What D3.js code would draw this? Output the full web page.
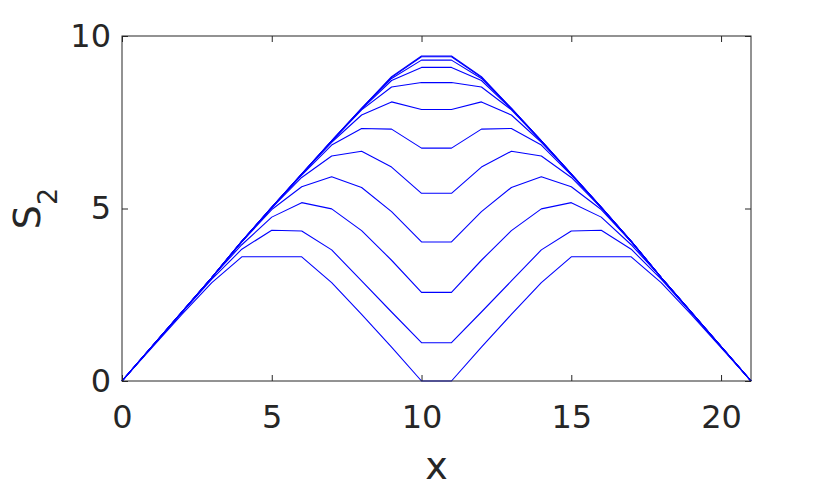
<!DOCTYPE html>
<html>
<head>
<meta charset="utf-8">
<script src="https://cdn.jsdelivr.net/npm/d3@7"></script>
<style>
  body { margin: 0; background: #fff; }
  svg { display: block; font-family: "DejaVu Sans", sans-serif; }
</style>
</head>
<body>
<div id="chart"></div>
<script>
// x positions (bond index)
const xValues = [0, 1, 2, 3, 4, 5, 6, 7, 8, 9, 10, 11, 12, 13, 14, 15, 16, 17, 18, 19, 20, 21];

// S_2 profiles, one array per time step
const s2t1  = [0, 0.97, 1.93, 2.85, 3.6, 3.6, 3.6, 2.85, 1.93, 0.98, 0, 0, 0.98, 1.93, 2.85, 3.6, 3.6, 3.6, 2.85, 1.93, 0.97, 0];
const s2t2  = [0, 1.0, 1.98, 2.95, 3.82, 4.37, 4.35, 3.8, 2.9, 2.0, 1.11, 1.11, 2.0, 2.9, 3.8, 4.35, 4.37, 3.82, 2.95, 1.98, 1.0, 0];
const s2t3  = [0, 1.0, 2.0, 3.0, 3.95, 4.75, 5.17, 4.99, 4.36, 3.5, 2.57, 2.57, 3.5, 4.36, 4.99, 5.17, 4.75, 3.95, 3.0, 2.0, 1.0, 0];
const s2t4  = [0, 1.0, 2.0, 3.0, 4.03, 4.97, 5.63, 5.92, 5.61, 4.91, 4.03, 4.03, 4.91, 5.61, 5.92, 5.63, 4.97, 4.03, 3.0, 2.0, 1.0, 0];
const s2t5  = [0, 1.0, 2.0, 3.0, 4.05, 5.02, 5.9, 6.52, 6.66, 6.2, 5.44, 5.44, 6.2, 6.66, 6.52, 5.9, 5.02, 4.05, 3.0, 2.0, 1.0, 0];
const s2t6  = [0, 1.0, 2.0, 3.0, 4.05, 5.03, 5.97, 6.84, 7.32, 7.3, 6.75, 6.75, 7.3, 7.32, 6.84, 5.97, 5.03, 4.05, 3.0, 2.0, 1.0, 0];
const s2t7  = [0, 1.0, 2.0, 3.0, 4.05, 5.03, 6.0, 6.92, 7.71, 8.09, 7.87, 7.87, 8.09, 7.71, 6.92, 6.0, 5.03, 4.05, 3.0, 2.0, 1.0, 0];
const s2t8  = [0, 1.0, 2.0, 3.0, 4.05, 5.03, 6.0, 6.95, 7.86, 8.52, 8.65, 8.65, 8.52, 7.86, 6.95, 6.0, 5.03, 4.05, 3.0, 2.0, 1.0, 0];
const s2t9  = [0, 1.0, 2.0, 3.0, 4.05, 5.03, 6.0, 6.96, 7.88, 8.71, 9.09, 9.09, 8.71, 7.88, 6.96, 6.0, 5.03, 4.05, 3.0, 2.0, 1.0, 0];
const s2t10 = [0, 1.0, 2.0, 3.0, 4.05, 5.03, 6.0, 6.96, 7.9, 8.77, 9.3, 9.3, 8.77, 7.9, 6.96, 6.0, 5.03, 4.05, 3.0, 2.0, 1.0, 0];
const s2t11 = [0, 1.0, 2.0, 3.0, 4.05, 5.03, 6.0, 6.96, 7.9, 8.8, 9.4, 9.4, 8.8, 7.9, 6.96, 6.0, 5.03, 4.05, 3.0, 2.0, 1.0, 0];
const s2t12 = [0, 1.0, 2.0, 3.0, 4.05, 5.03, 6.0, 6.96, 7.9, 8.82, 9.42, 9.42, 8.82, 7.9, 6.96, 6.0, 5.03, 4.05, 3.0, 2.0, 1.0, 0];

const allSeries = [s2t1, s2t2, s2t3, s2t4, s2t5, s2t6, s2t7, s2t8, s2t9, s2t10, s2t11, s2t12];

// tick labels
const xTicks = [0, 5, 10, 15, 20];
const yTicks = [0, 5, 10];

// Layout
const totalWidth = 830, totalHeight = 488;
const margin = { top: 36, right: 79, bottom: 107, left: 122 };
const width = totalWidth - margin.left - margin.right;
const height = totalHeight - margin.top - margin.bottom;
const axisColor = "#262626";

const svg = d3.select("#chart")
    .append("svg")
    .attr("width", totalWidth)
    .attr("height", totalHeight);

svg.append("rect")
    .attr("width", totalWidth)
    .attr("height", totalHeight)
    .attr("fill", "#fff");

const g = svg.append("g")
    .attr("transform", `translate(${margin.left},${margin.top})`);

// Scales
const xScale = d3.scaleLinear().domain([0, 21]).range([0, width]);
const yScale = d3.scaleLinear().domain([0, 10]).range([height, 0]);

// Curves
const line = d3.line()
    .x((d, i) => xScale(xValues[i]))
    .y((d) => yScale(d));

g.selectAll("path.curve")
    .data(allSeries)
    .enter()
    .append("path")
    .attr("class", "curve")
    .attr("d", line)
    .attr("fill", "none")
    .attr("stroke", "#0000ff")
    .attr("stroke-width", 1.1)
    .attr("stroke-linejoin", "round");

// Axes (ticks pointing inward, box on)
const tickLen = 6;

const xAxis = g.append("g")
    .attr("transform", `translate(0,${height})`)
    .call(d3.axisBottom(xScale).tickValues(xTicks).tickSizeInner(-tickLen).tickSizeOuter(0).tickPadding(24));

const yAxis = g.append("g")
    .call(d3.axisLeft(yScale).tickValues(yTicks).tickSizeInner(-tickLen).tickSizeOuter(0).tickPadding(11));

const xTop = g.append("g")
    .call(d3.axisTop(xScale).tickValues(xTicks).tickSizeInner(-tickLen).tickSizeOuter(0).tickFormat(""));

const yRight = g.append("g")
    .attr("transform", `translate(${width},0)`)
    .call(d3.axisRight(yScale).tickValues(yTicks).tickSizeInner(-tickLen).tickSizeOuter(0).tickFormat(""));

[xAxis, yAxis, xTop, yRight].forEach((ax) => {
    ax.select(".domain").remove();
    ax.selectAll("line").attr("stroke", axisColor).attr("stroke-width", 1);
    ax.selectAll("text")
        .attr("fill", axisColor)
        .style("font-size", "32px")
        .style("font-family", "DejaVu Sans, sans-serif");
});

// Box
g.append("rect")
    .attr("x", 0)
    .attr("y", 0)
    .attr("width", width)
    .attr("height", height)
    .attr("fill", "none")
    .attr("stroke", axisColor)
    .attr("stroke-width", 1);

// x label
svg.append("text")
    .attr("x", margin.left + width / 2)
    .attr("y", 479)
    .attr("text-anchor", "middle")
    .attr("fill", axisColor)
    .style("font-size", "38px")
    .text("x");

// y label with subscript
const yLabel = svg.append("text")
    .attr("transform", `translate(40, ${margin.top + height / 2}) rotate(-90)`)
    .attr("text-anchor", "middle")
    .attr("fill", axisColor)
    .style("font-size", "38px");
yLabel.append("tspan").text("S");
yLabel.append("tspan")
    .attr("dy", 17)
    .style("font-size", "27px")
    .text("2");
</script>
</body>
</html>
